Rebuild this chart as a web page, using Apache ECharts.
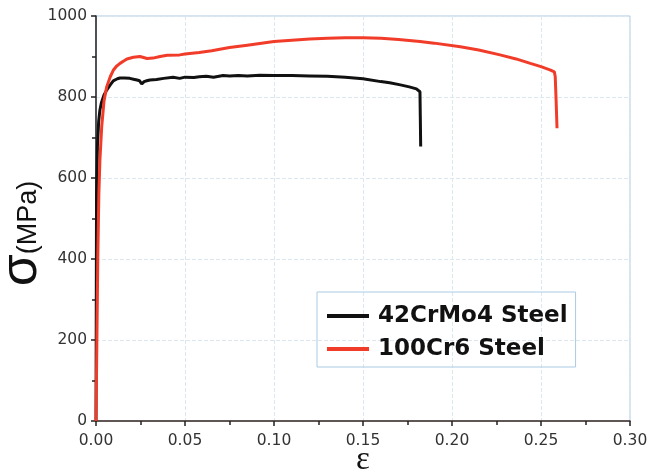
<!DOCTYPE html>
<html>
<head>
<meta charset="utf-8">
<script src="https://cdn.jsdelivr.net/npm/echarts@6/dist/echarts.min.js"></script>
<style>html,body{margin:0;padding:0;background:#fff}#c{width:651px;height:472px}</style>
</head>
<body>
<div id="c"></div>
<script>
// 42CrMo4 Steel
const strainA = [0, 0.0003, 0.0008, 0.0015, 0.0022, 0.003, 0.0045, 0.006, 0.008, 0.0097, 0.012, 0.0135, 0.016, 0.019, 0.021, 0.023, 0.0245, 0.0257, 0.027, 0.0285, 0.0303, 0.034, 0.038, 0.0433, 0.047, 0.05, 0.055, 0.058, 0.062, 0.066, 0.0714, 0.075, 0.08, 0.085, 0.092, 0.1, 0.103, 0.11, 0.12, 0.13, 0.14, 0.15, 0.16, 0.165, 0.171, 0.176, 0.18, 0.182, 0.1822, 0.1824];
const stressA = [0, 560, 680, 740, 768, 785, 805, 817, 830, 840, 845, 847, 847, 846, 844, 842, 840, 832, 838, 840, 842, 843, 846, 849, 846, 849, 848, 850, 851, 849, 853, 852, 853, 852, 854, 853, 853, 853, 852, 851, 849, 845, 838, 835, 830, 825, 820, 813, 750, 678];
// 100Cr6 Steel
const strainB = [0, 0.0005, 0.001, 0.0016, 0.0022, 0.0032, 0.0045, 0.006, 0.008, 0.0097, 0.0115, 0.0135, 0.016, 0.0174, 0.021, 0.0247, 0.0287, 0.032, 0.036, 0.04, 0.047, 0.05, 0.058, 0.065, 0.075, 0.085, 0.1, 0.11, 0.12, 0.13, 0.14, 0.15, 0.16, 0.17, 0.182, 0.19, 0.2047, 0.215, 0.227, 0.236, 0.244, 0.25, 0.255, 0.2575, 0.258, 0.2585, 0.259];
const stressB = [0, 200, 400, 560, 644, 726, 790, 825, 850, 866, 876, 883, 890, 894, 898, 900, 895, 896, 900, 903, 904, 906, 910, 914, 922, 928, 937, 940, 943, 945, 946, 946, 945, 942, 937, 933, 924, 916, 904, 894, 883, 875, 867, 862, 850, 790, 723];
const seriesNames = ['42CrMo4 Steel', '100Cr6 Steel'];
const xTicks = ['0.00', '0.05', '0.10', '0.15', '0.20', '0.25', '0.30'];
const yTicks = ['0', '200', '400', '600', '800', '1000'];

const pairs = (xs, ys) => xs.map((x, i) => [x, ys[i]]);
const chart = echarts.init(document.getElementById('c'), null, {renderer: 'canvas'});
const labelFont = {fontFamily: 'DejaVu Sans', fontSize: 15.5, color: '#333'};
chart.setOption({
  animation: false,
  grid: {left: 96, right: 21, top: 16, bottom: 51, containLabel: false, outerBoundsMode: 'none',
         show: true, borderColor: '#a9cbe3', borderWidth: 1},
  xAxis: {
    type: 'value', min: 0, max: 0.3, interval: 0.05,
    name: 'ε', nameLocation: 'middle', nameGap: 23, nameMoveOverlap: false,
    nameTextStyle: {fontFamily: 'Liberation Serif', fontSize: 33, color: '#111'},
    axisLine: {lineStyle: {color: '#3a2822', width: 1.5}},
    axisTick: {show: true, inside: false, length: 5, lineStyle: {color: '#222', width: 1.5}},
    minorTick: {show: true, splitNumber: 2, length: 4, lineStyle: {color: '#222', width: 1.5}},
    axisLabel: Object.assign({margin: 12, formatter: v => xTicks[Math.round(v / 0.05)]}, labelFont),
    splitLine: {show: true, lineStyle: {color: '#dbe8f2', width: 1, type: 'dashed'}}
  },
  yAxis: {
    type: 'value', min: 0, max: 1000, interval: 200,
    name: '{s|σ}{u|(MPa)}', nameLocation: 'middle', nameGap: 48, nameRotate: 90, nameMoveOverlap: false,
    nameTextStyle: {
      padding: [0, 30, 0, 0],
      rich: {
        s: {fontFamily: 'Liberation Sans', fontSize: 52, color: '#111', verticalAlign: 'bottom'},
        u: {fontFamily: 'Liberation Sans', fontSize: 27, color: '#111', verticalAlign: 'bottom', padding: [0, 0, 6, 0]}
      }
    },
    axisLine: {show: true, lineStyle: {color: '#222', width: 1.5}},
    axisTick: {show: true, inside: false, length: 5, lineStyle: {color: '#222', width: 1.5}},
    minorTick: {show: true, splitNumber: 2, length: 4, lineStyle: {color: '#222', width: 1.5}},
    axisLabel: Object.assign({margin: 9, formatter: v => yTicks[Math.round(v / 200)]}, labelFont),
    splitLine: {show: true, lineStyle: {color: '#dbe8f2', width: 1, type: 'dashed'}}
  },
  legend: {
    orient: 'vertical', left: 317, top: 292,
    padding: [10, 8, 4, 10], itemGap: 5,
    borderColor: '#a9cbe3', borderWidth: 1,
    icon: 'rect', itemWidth: 42, itemHeight: 4,
    textStyle: {fontFamily: 'DejaVu Sans', fontWeight: 'bold', fontSize: 23, color: '#111', lineHeight: 28, padding: [0, 0, 0, 4]},
    data: seriesNames
  },
  series: [
    {name: seriesNames[1], type: 'line', data: pairs(strainB, stressB), symbol: 'none', z: 3,
     lineStyle: {color: '#f23c2a', width: 3}, itemStyle: {color: '#f23c2a'}},
    {name: seriesNames[0], type: 'line', data: pairs(strainA, stressA), symbol: 'none', z: 2,
     lineStyle: {color: '#111', width: 3}, itemStyle: {color: '#111'}}
  ]
});
</script>
</body>
</html>
